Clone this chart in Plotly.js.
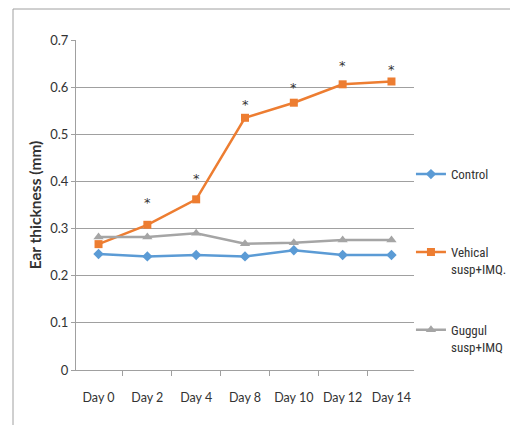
<!DOCTYPE html>
<html>
<head>
<meta charset="utf-8">
<script src="https://cdn.plot.ly/plotly-3.0.1.min.js"></script>
<style>
  html, body { margin: 0; padding: 0; background: #ffffff; }
  #chart { width: 510px; height: 425px; }
</style>
</head>
<body>
<div id="chart"></div>
<script>
// Data
const days = ["Day 0", "Day 2", "Day 4", "Day 8", "Day 10", "Day 12", "Day 14"];
const controlValues = [0.246, 0.241, 0.244, 0.241, 0.254, 0.244, 0.244];
const vehicalValues = [0.267, 0.308, 0.362, 0.535, 0.567, 0.606, 0.612];
const guggulValues  = [0.282, 0.282, 0.290, 0.268, 0.270, 0.276, 0.276];
const seriesNames = ["Control<br>&nbsp;", "Vehical<br>susp+IMQ.", "Guggul<br>susp+IMQ"];
// significance marks ("*") shown over the Vehical series
const starDays = ["Day 2", "Day 4", "Day 8", "Day 10", "Day 12", "Day 14"];
const starLevels = [0.362, 0.413, 0.570, 0.606, 0.653, 0.644];

const FONT = "Lato, 'Open Sans', sans-serif";
const NARROW = "'Liberation Sans Narrow', 'Arial Narrow', 'Roboto Condensed', sans-serif";
const GRID = "#a0a0a0";
const TXT = "#333333";

const traces = [
  { x: days, y: controlValues, name: seriesNames[0], legendgroup: "g1",
    type: "scatter", mode: "lines+markers",
    line: { color: "#5B9BD5", width: 2.5 },
    marker: { symbol: "diamond", size: 8, color: "#5B9BD5" } },
  { x: days, y: vehicalValues, name: seriesNames[1], legendgroup: "g2",
    type: "scatter", mode: "lines+markers",
    line: { color: "#ED7D31", width: 2.5 },
    marker: { symbol: "square", size: 8, color: "#ED7D31" } },
  { x: days, y: guggulValues, name: seriesNames[2], legendgroup: "g3",
    type: "scatter", mode: "lines+markers",
    line: { color: "#A5A5A5", width: 2.5 },
    marker: { symbol: "triangle-up", size: 9, color: "#A5A5A5" } }
];

const annotations = starDays.map((d, i) => ({
  x: d, y: starLevels[i], xref: "x", yref: "y",
  text: "*", showarrow: false, yanchor: "middle", yshift: -3,
  font: { family: "'DejaVu Sans', sans-serif", size: 13, color: TXT }
}));

const layout = {
  width: 510, height: 425,
  margin: { l: 76, r: 96, t: 40, b: 55, autoexpand: false },
  paper_bgcolor: "#ffffff", plot_bgcolor: "#ffffff",
  font: { family: FONT, size: 12, color: TXT },
  showlegend: true,
  legend: {
    x: 0.991, xanchor: "left", y: 0.639, yanchor: "top",
    valign: "top", tracegroupgap: 41, itemwidth: 30,
    font: { family: NARROW, size: 13, color: TXT },
    bgcolor: "rgba(0,0,0,0)"
  },
  xaxis: {
    type: "category",
    showgrid: false, zeroline: false,
    showline: true, linecolor: GRID, linewidth: 1,
    ticks: "outside", tickson: "boundaries", ticklen: 5, tickcolor: GRID,
    ticklabelstandoff: 16, tickangle: 0,
    tickfont: { family: FONT, size: 12.5, color: TXT },
    fixedrange: true
  },
  yaxis: {
    range: [0, 0.7],
    tickvals: [0, 0.1, 0.2, 0.3, 0.4, 0.5, 0.6, 0.7],
    ticktext: ["0", "0.1", "0.2", "0.3", "0.4", "0.5", "0.6", "0.7"],
    showgrid: true, gridcolor: GRID, gridwidth: 1,
    zeroline: false,
    showline: true, linecolor: GRID, linewidth: 1,
    ticks: "outside", ticklen: 4, tickcolor: GRID,
    tickfont: { family: FONT, size: 13, color: TXT },
    title: { text: "<b>Ear thickness (mm)</b>", standoff: 4,
             font: { family: FONT, size: 15.5, color: TXT } },
    fixedrange: true
  },
  annotations: annotations,
  shapes: [
    { type: "line", xref: "paper", yref: "paper",
      x0: -63/338, x1: 1.3, y0: 361/330, y1: 361/330,
      line: { color: "#a0a0a0", width: 1 } },
    { type: "line", xref: "paper", yref: "paper",
      x0: -63/338, x1: -63/338, y0: 361/330, y1: -0.2,
      line: { color: "#a0a0a0", width: 1 } }
  ]
};

Plotly.newPlot("chart", traces, layout, { displayModeBar: false, staticPlot: true });
</script>
</body>
</html>
